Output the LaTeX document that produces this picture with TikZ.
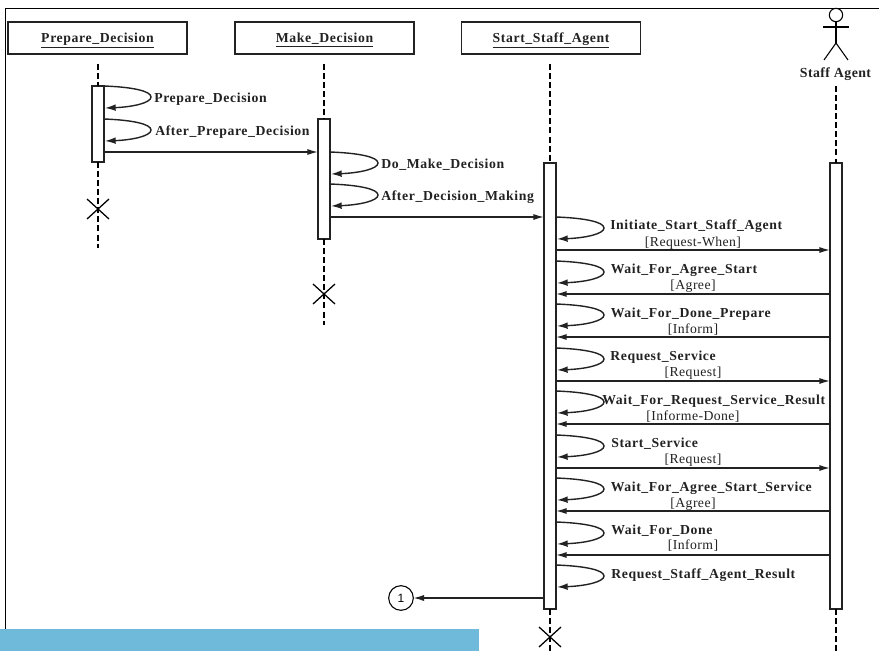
\documentclass[tikz,border=0pt]{standalone}
\usepackage{fontspec}
\setmainfont{Liberation Serif}
\newfontfamily\callfont[LetterSpace=4.5]{Liberation Serif}
\newfontfamily\msgfont[LetterSpace=3]{Liberation Serif}
\newfontfamily\numfont{Liberation Sans}
\usetikzlibrary{arrows.meta,shapes.misc}
\definecolor{inkgray}{HTML}{222222}
\definecolor{bandblue}{HTML}{6FB9DB}
\tikzset{
  classbox/.style={draw=inkgray,line width=1.2pt,minimum width=134pt,minimum height=24pt,outer sep=0pt,inner sep=0pt,text height=8.2pt,text depth=2pt,font=\callfont\bfseries\fontsize{10.3}{12}\selectfont,text=inkgray},
  actbar/.style={draw=inkgray,fill=white,line width=1.1pt,minimum width=9pt,outer sep=0pt,inner sep=0pt},
  lifeline/.style={draw=black,line width=2pt,dash pattern=on 4.5pt off 2.3pt},
  selfcall/.style={draw=inkgray,line width=1.05pt,-{Latex[length=8pt,width=5pt]}},
  msgline/.style={draw=inkgray,line width=1.05pt,-{Latex[length=8pt,width=4.6pt]}},
  killmark/.style={cross out,draw=black,line width=0.95pt,minimum width=16.5pt,minimum height=15pt,inner sep=0pt,outer sep=0pt},
  calltext/.style={anchor=west,inner sep=0pt,yshift=-1pt,text=inkgray,font=\callfont\bfseries\fontsize{10.3}{12}\selectfont},
  guardtext/.style={inner sep=0pt,yshift=-0.6pt,text=inkgray,font=\msgfont\fontsize{10.3}{12}\selectfont}
}
\newcommand{\selfloop}[3]{% bar, y of start, x reach
  \draw[selfcall,shift={(#1.east |- 0,#2)}] (0,0) .. controls (#3*0.6,1) and (#3,5) .. (#3,11) .. controls (#3,17) and (#3*0.6,21) .. (1,22);
}
\begin{document}
\begin{tikzpicture}[x=0.75pt,y=-0.75pt,line cap=butt,line join=miter]
  \useasboundingbox (0,0) rectangle (879,651);
  \fill[bandblue] (0,629) rectangle (479,651);
  \draw[black,line width=0.65pt] (5.5,629) -- (5.5,8.5) -- (879,8.5);

  % classes
  \node[classbox] (prepare) at (97.5,38) {\underline{Prepare\_Decision}};
  \node[classbox] (make) at (324.5,38) {\underline{Make\_Decision}};
  \node[classbox] (start) at (551,38) {\underline{Start\_Staff\_Agent}};

  % actor
  \node[circle,draw=black,line width=0.8pt,minimum size=10pt,inner sep=0pt,outer sep=0pt] (head) at (836,15) {};
  \coordinate (hip) at (836,43);
  \draw[black,line width=0.8pt] (head.south) -- (hip);
  \draw[black,line width=0.8pt] (823,27) -- (849,27);
  \draw[black,line width=0.8pt] (824,60) -- (hip) -- (848,60);
  \node[calltext,anchor=center,font=\msgfont\bfseries\fontsize{10.4}{12}\selectfont] (staff) at (835.5,73) {Staff Agent};

  % activation bars
  \node[actbar,minimum height=57pt] (barA) at (98,124) {};
  \node[actbar,minimum height=90pt] (barB) at (324,179) {};
  \node[actbar,minimum height=334.5pt] (barC) at (550,386) {};
  \node[actbar,minimum height=334.5pt] (barD) at (836,386) {};

  % ends
  \node[killmark] (endA) at (98,209) {};
  \node[killmark] (endB) at (324,294) {};
  \node[killmark] (endC) at (550,637) {};
  \coordinate (topA) at (98,64);
  \coordinate (topB) at (324,64);
  \coordinate (topC) at (550,64);
  \coordinate (topD) at (836,86);
  \coordinate (tailA) at (98,248);
  \coordinate (tailB) at (324,325);
  \coordinate (tailC) at (550,651);
  \coordinate (tailD) at (836,651);
  \foreach \n in {A,B,C,D}{
    \draw[lifeline] (top\n) -- (bar\n.north);
    \draw[lifeline] (bar\n.south) -- (tail\n);
  }

  % self calls
  \foreach \y in {86,119}{
    \selfloop{barA}{\y}{47}
  }
  \foreach \y in {152,184}{
    \selfloop{barB}{\y}{48}
  }
  \foreach \y in {217,261,304,348,391,435,478,522,565}{
    \selfloop{barC}{\y}{48}
  }

  % messages
  \draw[msgline] (barA.east |- 0,152) -- (barB.west |- 0,152);
  \draw[msgline] (barB.east |- 0,217) -- (barC.west |- 0,217);
  \foreach \y in {250,381,468}
    \draw[msgline] (barC.east |- 0,\y) -- (barD.west |- 0,\y);
  \foreach \y in {294,337,424,511,555}
    \draw[msgline] (barD.west |- 0,\y) -- (barC.east |- 0,\y);
  \node[circle,draw=black,line width=0.8pt,minimum size=18.5pt,inner sep=0pt,outer sep=0pt,font=\numfont\fontsize{9}{10}\selectfont] (link) at (401,598) {1};
  \draw[msgline] (barC.west |- 0,598) -- (link);

  % call labels
  \foreach \x/\y/\n/\t in {
    154/97.5/c1/Prepare\_Decision,
    155/130.5/c2/After\_Prepare\_Decision,
    381/163.5/c3/Do\_Make\_Decision,
    381/195.5/c4/After\_Decision\_Making,
    610/224.5/c5/Initiate\_Start\_Staff\_Agent,
    610.5/268.5/c6/Wait\_For\_Agree\_Start,
    610.5/312.5/c7/Wait\_For\_Done\_Prepare,
    610/355.5/c8/Request\_Service,
    602/399.5/c9/Wait\_For\_Request\_Service\_Result,
    611/442.5/c10/Start\_Service,
    610.5/486.5/c11/Wait\_For\_Agree\_Start\_Service,
    611/529.5/c12/Wait\_For\_Done,
    611/573.5/c13/Request\_Staff\_Agent\_Result}
    \node[calltext] (\n) at (\x,\y) {\t};

  % guards
  \foreach \y/\n/\t in {
    242/g1/{[Request-When]},
    285/g2/{[Agree]},
    329/g3/{[Inform]},
    372/g4/{[Request]},
    416/g5/{[Informe-Done]},
    459/g6/{[Request]},
    503/g7/{[Agree]},
    545/g8/{[Inform]}}
    \node[guardtext] (\n) at (693,\y) {\t};
\end{tikzpicture}
\end{document}
